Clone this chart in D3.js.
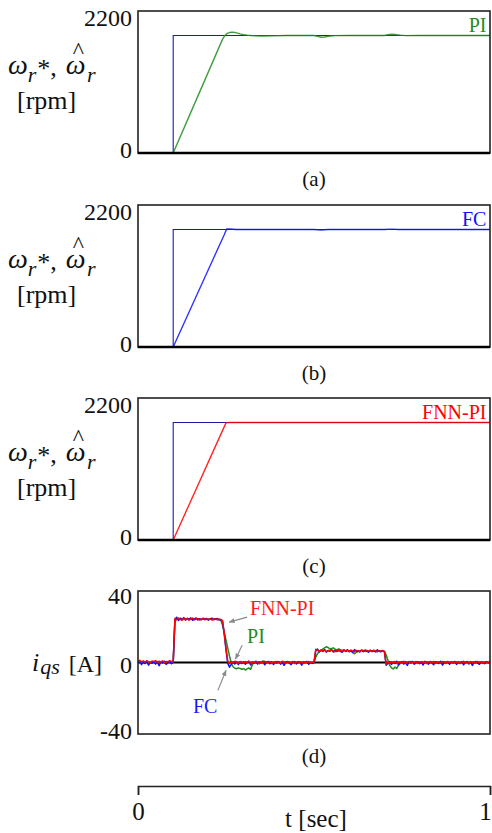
<!DOCTYPE html>
<html>
<head>
<meta charset="utf-8">
<script src="https://cdn.jsdelivr.net/npm/d3@7"></script>
<style>
html, body { margin: 0; padding: 0; background: #fff; }
svg { display: block; font-family: "Liberation Serif", "DejaVu Serif", serif; }
</style>
</head>
<body>
<div id="chart"></div>
<script>
// speed reference (command) and responses, rpm
const tRef = [0, 0.1, 0.1, 1];
const wRef = [0, 0, 1820, 1820];

const tPI = [0, 0.1, 0.15, 0.2, 0.24, 0.245, 0.25, 0.255, 0.26, 0.268, 0.275, 0.28, 0.29, 0.30, 0.31, 0.32, 0.335, 0.35, 0.38, 0.42, 0.5, 0.51, 0.52, 0.53, 0.545, 0.56, 0.6, 0.7, 0.71, 0.72, 0.73, 0.745, 0.76, 0.8, 1];
const wPI = [0, 0, 629, 1257, 1760, 1805, 1838, 1856, 1866, 1872, 1868, 1862, 1846, 1834, 1826, 1820, 1814, 1812, 1815, 1820, 1820, 1806, 1793, 1797, 1810, 1818, 1820, 1820, 1833, 1840, 1836, 1826, 1818, 1820, 1820];

const tFC = [0, 0.1, 0.15, 0.2, 0.245, 0.252, 0.26, 0.28, 0.5, 0.52, 0.54, 0.7, 0.72, 0.74, 1];
const wFC = [0, 0, 600, 1200, 1740, 1830, 1828, 1820, 1820, 1813, 1820, 1820, 1826, 1820, 1820];

const tFNN = [0, 0.1, 0.15, 0.2, 0.25, 0.26, 1];
const wFNN = [0, 0, 605, 1210, 1815, 1820, 1820];

// q-axis current, A, sampled every 5 ms
const iqsFNN = [
  0.6, 1.2, 0.3, 0.9, 0.2, 1.0, 0.4, -0.2, 0.8, 0.5, 1.1, 0.1, 0.7, 0.3, 0.9, -0.1, 0.6, 0.4, 1.0, 0.5,
  0.4, 24.6, 23.8, 24.9, 24.2, 23.6, 24.7, 24.1, 24.5, 23.7, 24.4, 24.8, 23.9, 24.3, 24.6, 23.8, 24.2, 24.7, 23.9, 24.4,
  24.0, 24.6, 23.8, 24.3, 24.5, 23.9, 24.2, 24.1, 23.4, 16.5, 8.0, 0.8, -0.6, 0.5, -0.3, 0.7, 0.2, -0.5, 0.6, 0.1,
  -0.4, 0.5, 0.0, 0.8, -0.6, 0.3, -0.2, 0.6, 0.1, -0.7, 0.4, -0.1, 0.7, -0.3, 0.2, 0.5, -0.5, 0.3, -0.2, 0.6,
  0.0, -0.4, 0.7, 0.2, -0.6, 0.4, 0.1, -0.3, 0.6, -0.5, 0.2, 0.5, -0.2, 0.3, -0.6, 0.4, 0.0, 0.6, -0.4, 0.2,
  0.3, 7.4, 6.8, 6.2, 7.0, 6.4, 6.9, 6.1, 6.7, 6.3, 7.1, 6.5, 6.0, 6.8, 6.4, 6.6, 6.1, 7.0, 6.3, 6.7,
  6.2, 6.9, 6.4, 6.0, 6.8, 6.5, 6.1, 7.0, 6.6, 6.2, 6.8, 6.3, 6.7, 6.1, 6.9, 6.4, 6.0, 6.6, 6.3, 6.5,
  6.2, -0.8, 0.3, -0.4, 0.5, -0.2, 0.6, -0.5, 0.2, 0.4, -0.3, 0.7, -0.6, 0.1, 0.5, -0.4, 0.3, -0.1, 0.6, -0.5,
  0.2, 0.5, -0.3, 0.7, -0.6, 0.1, 0.4, -0.2, 0.6, -0.5, 0.3, 0.0, -0.4, 0.6, 0.2, -0.6, 0.5, -0.1, 0.3, -0.4,
  0.6, -0.2, 0.4, -0.5, 0.1, 0.7, -0.3, 0.2, -0.6, 0.5, 0.0, 0.4, -0.4, 0.6, -0.1, 0.3, -0.5, 0.2, 0.5, -0.2, 0.3
];
const iqsFC = [
  -0.3, 0.5, -1.2, 0.2, -0.6, 0.8, -1.5, 0.1, -0.4, 0.6, -0.9, 0.3, -1.8, 0.4, -0.2, 0.7, -1.1, 0.0, 0.5, -0.7,
  0.2, 24.2, 25.3, 23.5, 24.8, 24.0, 25.1, 23.7, 24.6, 24.3, 25.0, 23.6, 24.4, 24.9, 23.8, 24.5, 23.9, 24.7, 24.1, 24.6,
  23.7, 24.4, 24.8, 23.9, 24.2, 24.6, 23.8, 24.0, 23.2, 16.0, 7.0, -0.5, -2.6, -1.0, 0.3, -0.8, 0.5, -1.2, 0.2, -0.6,
  0.4, -1.0, 0.1, 0.6, -1.4, 0.2, -0.5, 0.7, -0.9, 0.3, -0.2, 0.5, -1.3, 0.0, 0.6, -0.7, 0.2, -1.1, 0.4, -0.3,
  0.5, -0.9, 0.1, -1.6, 0.3, 0.6, -0.4, -1.2, 0.2, 0.5, -0.8, 0.0, 0.4, -1.5, 0.3, -0.2, 0.6, -1.0, 0.1, -0.5,
  -0.2, 6.6, 7.5, 5.9, 6.9, 6.2, 7.3, 5.8, 6.7, 6.4, 7.2, 5.9, 6.8, 6.1, 7.0, 6.3, 5.7, 6.9, 6.2, 7.1,
  6.0, 6.7, 5.8, 7.2, 6.3, 6.6, 5.9, 6.9, 6.1, 7.0, 6.4, 5.8, 6.8, 6.2, 6.5, 5.9, 7.1, 6.3, 6.0, 6.7,
  6.0, -1.5, -0.4, 0.5, -1.1, 0.2, -0.6, 0.7, -1.3, 0.1, 0.4, -0.9, 0.3, -1.6, 0.5, -0.2, 0.6, -1.0, 0.0, 0.4,
  -0.7, 0.3, -1.4, 0.5, 0.1, -0.9, 0.6, -0.3, -1.2, 0.4, 0.0, -0.6, 0.7, -1.5, 0.2, -0.4, 0.5, -1.0, 0.3, -0.2,
  0.6, -1.1, 0.2, -0.5, 0.4, -1.3, 0.1, 0.5, -0.8, 0.3, -1.6, 0.2, 0.6, -0.4, -1.0, 0.3, 0.0, -0.7, 0.5, -0.3, 0.2
];
const iqsPI = [
  0.2, -0.3, 0.4, 0.0, -0.2, 0.5, 0.1, -0.4, 0.3, 0.0, -0.1, 0.4, -0.3, 0.2, 0.1, -0.2, 0.3, 0.0, -0.3, 0.2,
  0.0, 24.0, 24.8, 24.3, 24.6, 24.1, 24.5, 24.2, 24.7, 24.0, 24.4, 24.6, 24.1, 24.3, 24.5, 24.0, 24.4, 24.2, 24.6, 24.1,
  24.3, 24.5, 24.0, 24.2, 24.4, 24.1, 24.3, 23.8, 21.0, 16.8, 12.5, 8.0, 3.5, -0.3, -2.4, -3.2, -3.5, -3.0, -3.3, -3.8,
  -3.4, -4.2, -3.6, -3.1, -3.8, -1.2, 0.2, -0.3, 0.4, 0.1, -0.2, 0.8, 0.5, 0.2, -0.1, 0.3, 0.0, -0.3, 0.2, 0.4,
  0.1, -0.2, 0.3, 0.0, -0.4, 0.2, 0.5, -0.1, 0.1, 0.3, -0.2, 0.0, 0.4, -0.3, 0.1, 0.2, -0.2, 0.3, 0.0, -0.1,
  0.0, 3.0, 5.0, 6.0, 6.8, 7.5, 8.2, 8.8, 8.4, 7.6, 7.9, 8.2, 7.4, 7.0, 7.6, 7.2, 6.8, 7.1, 6.6, 6.9,
  6.4, 6.7, 5.5, 4.9, 5.6, 6.2, 6.5, 6.8, 6.3, 6.6, 6.2, 6.5, 6.8, 6.4, 6.6, 6.3, 6.7, 6.4, 6.5, 6.4,
  6.3, 4.2, 1.2, -1.5, -3.0, -3.6, -2.6, -3.3, -1.6, -0.5, 0.3, 0.0, 0.5, 0.2, -0.1, 0.6, 0.3, 0.0, 0.4, 0.2,
  -0.1, 0.3, 0.0, -0.2, 0.4, 0.1, -0.3, 0.2, 0.5, 0.0, -0.2, 0.3, 0.1, -0.1, 0.4, 0.2, -0.2, 0.0, 0.3, 0.1,
  -0.2, 0.4, 0.1, 0.0, 0.3, -0.1, 0.2, 0.5, -0.2, 0.1, 0.3, 0.0, -0.1, 0.4, 0.2, -0.3, 0.1, 0.3, 0.0, 0.2, 0.1
];
const tI = d3.range(iqsPI.length).map(i => i * 0.005);

const speedTicks = [0, 2200];
const currentTicks = [-40, 0, 40];
const timeTicks = [0, 1];

// annotation labels in panel (d), data units [t, A]
const notes = [
  { text: 'FNN-PI', color: '#ff1a1a', at: [0.318, 26.6], from: [0.31, 25.4], to: [0.259, 22.6] },
  { text: 'PI', color: '#1e8c1e', at: [0.31, 10.9], from: [0.296, 9.6], to: [0.277, 2.0] },
  { text: 'FC', color: '#1a1aff', at: [0.156, -28.2], from: [0.227, -15.6], to: [0.25, -4.4] }
];

const COL = { ref: '#1c1ca8', pi: '#1e8c1e', fc: '#1010ff', fnn: '#ff0000' };
const SERIF = '"Liberation Serif", "DejaVu Serif", serif';

const width = 492, height = 833;
const svg = d3.select('#chart').append('svg')
  .attr('width', width)
  .attr('height', height)
  .attr('font-family', SERIF);

svg.append('defs').append('marker')
  .attr('id', 'arr')
  .attr('viewBox', '0 0 10 10')
  .attr('refX', 9).attr('refY', 5)
  .attr('markerWidth', 5).attr('markerHeight', 5)
  .attr('orient', 'auto')
  .append('path').attr('d', 'M0,1L10,5L0,9Z').attr('fill', '#8a8a8a');

const x = d3.scaleLinear().domain([0, 1]).range([138, 490]);
const panelH = 142;

function speedTitle(top) {
  const t = svg.append('text')
    .attr('x', 8).attr('y', top + 63)
    .attr('fill', '#111')
    .style('font-size', '28px');
  t.append('tspan').style('font-style', 'italic').text('ω');
  t.append('tspan').style('font-style', 'italic').style('font-size', '22px').attr('dy', 8).text('r');
  t.append('tspan').style('font-size', '26px').attr('dy', -5).attr('dx', 1).text('*');
  t.append('tspan').style('font-size', '26px').attr('dy', -1).text(',');
  t.append('tspan').style('font-style', 'italic').attr('dy', -2).attr('dx', 9).text('ω');
  // hat over the second omega
  t.append('tspan').style('font-size', '24px').attr('dy', -16).attr('dx', -13).text('^');
  t.append('tspan').style('font-style', 'italic').style('font-size', '22px').attr('dy', 24).attr('dx', 3).text('r');

  svg.append('text')
    .attr('x', 17).attr('y', top + 98)
    .attr('fill', '#111')
    .style('font-size', '26px')
    .text('[rpm]');
}

function drawSpeed(p) {
  const y = d3.scaleLinear().domain([0, 2200]).range([p.top + panelH, p.top]);
  const line = d3.line().x(d => x(d[0])).y(d => y(d[1]));
  const g = svg.append('g');

  g.append('path').datum(d3.zip(tRef, wRef))
    .attr('d', line)
    .attr('fill', 'none').attr('stroke', COL.ref).attr('stroke-width', 1.1);

  g.append('path').datum(d3.zip(p.t, p.w))
    .attr('d', line)
    .attr('fill', 'none').attr('stroke', p.color)
    .attr('stroke-width', 1.4).attr('stroke-opacity', 0.85)
    .attr('stroke-linejoin', 'round');

  g.append('rect')
    .attr('x', x(0)).attr('y', p.top)
    .attr('width', x(1) - x(0)).attr('height', panelH)
    .attr('fill', 'none').attr('stroke', '#222').attr('stroke-width', 1.6);
  g.append('line')
    .attr('x1', x(0)).attr('x2', x(1))
    .attr('y1', y(0)).attr('y2', y(0))
    .attr('stroke', '#000').attr('stroke-width', 2.4);

  const ax = g.append('g')
    .attr('transform', `translate(${x(0)},0)`)
    .call(d3.axisLeft(y).tickValues(speedTicks).tickFormat(d3.format('d')).tickSize(0).tickPadding(6));
  ax.select('.domain').remove();
  ax.attr('font-family', SERIF);
  ax.selectAll('text')
    .attr('fill', '#111')
    .style('font-size', '24px')
    .attr('dy', d => d === 0 ? '0.2em' : '0.62em');

  g.append('text')
    .attr('x', x(0.99)).attr('y', p.top + 21)
    .attr('text-anchor', 'end')
    .attr('fill', p.color)
    .style('font-size', '20px')
    .text(p.name);

  g.append('text')
    .attr('x', x(0.5)).attr('y', p.top + panelH + 33)
    .attr('text-anchor', 'middle')
    .attr('fill', '#111')
    .style('font-size', '21px')
    .text(p.label);

  speedTitle(p.top);
}

[
  { top: 11, label: '(a)', name: 'PI', color: COL.pi, t: tPI, w: wPI },
  { top: 205, label: '(b)', name: 'FC', color: COL.fc, t: tFC, w: wFC },
  { top: 398, label: '(c)', name: 'FNN-PI', color: COL.fnn, t: tFNN, w: wFNN }
].forEach(drawSpeed);

// (d) current panel
const dTop = 591, dH = 143;
const yI = d3.scaleLinear().domain([-40, 40]).range([dTop + dH, dTop]);
const gd = svg.append('g');

gd.append('line')
  .attr('x1', x(0)).attr('x2', x(1))
  .attr('y1', yI(0)).attr('y2', yI(0))
  .attr('stroke', '#000').attr('stroke-width', 2);

const lineI = d3.line().x(d => x(d[0])).y(d => yI(d[1]));
[[iqsPI, COL.pi], [iqsFC, COL.fc], [iqsFNN, COL.fnn]].forEach(([vals, c]) => {
  gd.append('path').datum(d3.zip(tI, vals))
    .attr('d', lineI)
    .attr('fill', 'none').attr('stroke', c)
    .attr('stroke-width', 1.5).attr('stroke-linejoin', 'round');
});

gd.append('rect')
  .attr('x', x(0)).attr('y', dTop)
  .attr('width', x(1) - x(0)).attr('height', dH)
  .attr('fill', 'none').attr('stroke', '#222').attr('stroke-width', 1.6);

const axI = gd.append('g')
  .attr('transform', `translate(${x(0)},0)`)
  .call(d3.axisLeft(yI).tickValues(currentTicks).tickFormat(d3.format('d')).tickSize(0).tickPadding(6));
axI.select('.domain').remove();
axI.attr('font-family', SERIF);
axI.selectAll('text')
  .attr('fill', '#111')
  .style('font-size', '24px')
  .text(d => d < 0 ? '-' + Math.abs(d) : d)
  .attr('dy', d => d === 40 ? '0.5em' : d === 0 ? '0.42em' : '0.2em');

notes.forEach(n => {
  gd.append('line')
    .attr('x1', x(n.from[0])).attr('y1', yI(n.from[1]))
    .attr('x2', x(n.to[0])).attr('y2', yI(n.to[1]))
    .attr('stroke', '#8a8a8a').attr('stroke-width', 1.2)
    .attr('marker-end', 'url(#arr)');
  gd.append('text')
    .attr('x', x(n.at[0])).attr('y', yI(n.at[1]))
    .attr('fill', n.color)
    .style('font-size', '20px')
    .text(n.text);
});

const iq = gd.append('text')
  .attr('x', 32).attr('y', 671)
  .attr('fill', '#111')
  .style('font-size', '26px');
iq.append('tspan').style('font-style', 'italic').text('i');
iq.append('tspan').style('font-style', 'italic').style('font-size', '22px').attr('dy', 3).attr('dx', 1).text('qs');
iq.append('tspan').style('font-size', '24px').attr('dy', -2).attr('dx', 9).text('[A]');

gd.append('text')
  .attr('x', x(0.5)).attr('y', dTop + dH + 29)
  .attr('text-anchor', 'middle')
  .attr('fill', '#111')
  .style('font-size', '21px')
  .text('(d)');

// time axis
const axT = svg.append('g')
  .attr('transform', 'translate(0,786)')
  .call(d3.axisBottom(x).tickValues(timeTicks).tickFormat(d3.format('d')).tickSize(9).tickSizeOuter(9).tickPadding(7));
axT.attr('font-family', SERIF);
axT.select('.domain').attr('stroke', '#222').attr('stroke-width', 1.5);
axT.selectAll('.tick line').attr('stroke', '#222').attr('stroke-width', 1.5);
axT.selectAll('text')
  .attr('fill', '#111')
  .style('font-size', '25px')
  .attr('dx', d => d === 1 ? -5 : 0);

svg.append('text')
  .attr('x', x(0.5) + 2).attr('y', 827)
  .attr('text-anchor', 'middle')
  .attr('fill', '#111')
  .style('font-size', '25px')
  .text('t [sec]');
</script>
</body>
</html>
